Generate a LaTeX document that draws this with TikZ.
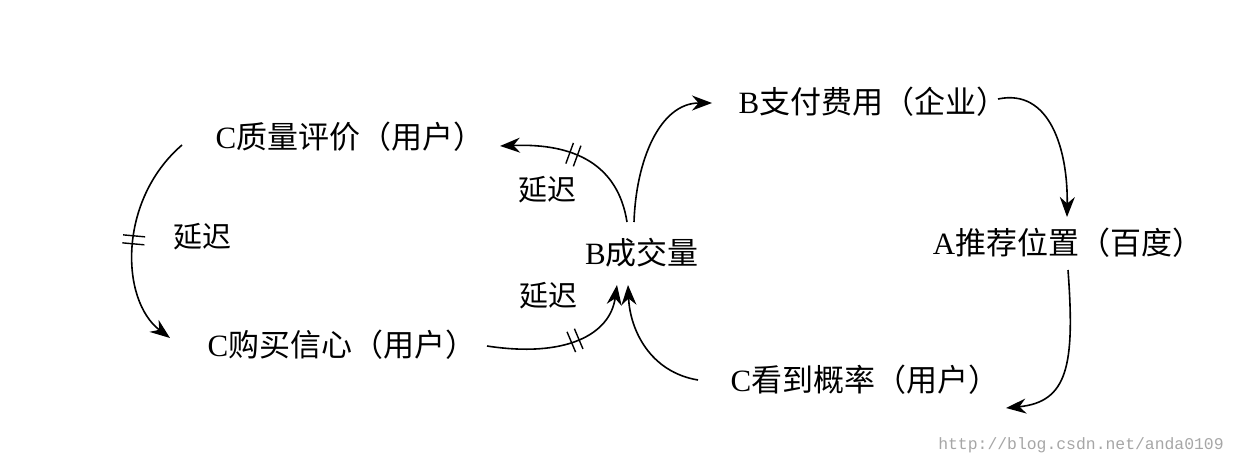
\documentclass[tikz,border=0pt]{standalone}
\usepackage{fontspec}
\setmainfont{Liberation Serif}
\setmonofont{Liberation Mono}
\newfontfamily\cjk{Noto Sans CJK SC}
\usetikzlibrary{arrows.meta,decorations.markings,calc}
\begin{document}
\begin{tikzpicture}[x=0.5pt,y=-0.5pt,
  lbl/.style={inner sep=0pt,font=\fontsize{15.5}{18}\selectfont},
  dl/.style={inner sep=0pt,font=\fontsize{14.5}{17}\selectfont\cjk},
  link/.style={line width=0.8pt,-{Stealth[length=10pt,width=7.5pt]}},
  delaymark/.style={postaction={decorate,decoration={markings,
     mark=at position #1 with {\draw[-,line width=0.7pt] (-2pt,-5.5pt)--(-2pt,5.5pt) (2pt,-5.5pt)--(2pt,5.5pt);}}}}
  ]
\useasboundingbox (0,0) rectangle (1240,466);
\node[lbl] (Q) at (350,137) {C{\cjk 质量评价（用户）}};
\node[lbl] (Cf) at (342,345) {C{\cjk 购买信心（用户）}};
\node[lbl] (B) at (642,253) {B{\cjk 成交量}};
\node[lbl] (P) at (873,102) {B{\cjk 支付费用（企业）}};
\node[lbl] (A) at (1068,243) {A{\cjk 推荐位置（百度）}};
\node[lbl] (S) at (865,380) {C{\cjk 看到概率（用户）}};
\node[dl] (d1) at (202,237) {延迟};
\node[dl] (d2) at (547,190) {延迟};
\node[dl] (d3) at (548,296) {延迟};
\node[inner sep=0pt,font=\fontsize{8.2}{10}\selectfont\ttfamily,text=black!35] (w) at (1081,445) {http://blog.csdn.net/anda0109};
% connector end points
\coordinate (q1) at (182,145);
\coordinate (c1) at (170,338);
\coordinate (c2) at (487,346);
\coordinate (b1) at (627,222);
\coordinate (b2) at (634,222);
\coordinate (b3) at (617,285);
\coordinate (b4) at (628,285);
\coordinate (q2) at (500,146);
\coordinate (p1) at (712,103);
\coordinate (p2) at (998,99);
\coordinate (a1) at (1067,217);
\coordinate (a2) at (1068,270);
\coordinate (s1) at (1006,408);
\coordinate (s2) at (698,380);
% connectors
\draw[link,delaymark=0.5] (q1) .. controls (118,200) and (120,300) .. (c1);
\draw[link] (b2) .. controls (636,160) and (660,103) .. (p1);
\draw[link,delaymark=0.55] (b1) .. controls (618,165) and (575,143) .. (q2);
\draw[link,delaymark=0.55] (c2) .. controls (565,358) and (610,335) .. (b3);
\draw[link] (s2) .. controls (650,372) and (630,330) .. (b4);
\draw[link] (p2) .. controls (1050,88) and (1068,150) .. (a1);
\draw[link] (a2) .. controls (1075,365) and (1068,402) .. (s1);
\end{tikzpicture}
\end{document}
